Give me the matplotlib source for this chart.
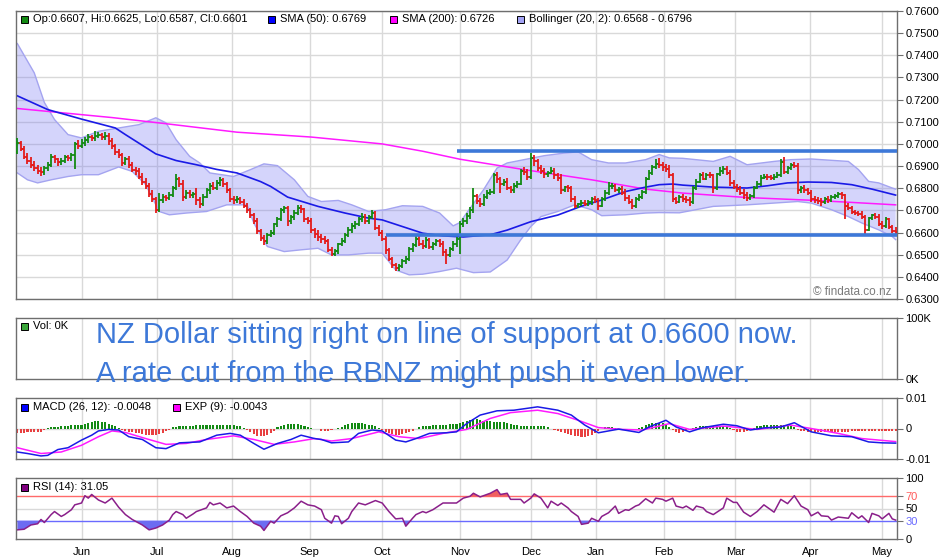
import numpy as np
import matplotlib
matplotlib.use("Agg")
import matplotlib.pyplot as plt
from matplotlib.patches import Rectangle

plt.rcParams["font.family"] = ["Liberation Sans", "DejaVu Sans"]

# ---- daily NZD/USD bars, prices in 1/10000 ----
opens = [
    6965, 7002, 6978, 6942, 6925, 6906, 6893, 6880, 6872, 6890,
    6905, 6942, 6930, 6918, 6925, 6940, 6935, 6948, 7000, 6992,
    7005, 7018, 7030, 7026, 7038, 7042, 7030, 7035, 7012, 6990,
    6962, 6948, 6912, 6930, 6905, 6884, 6878, 6852, 6830, 6812,
    6776, 6752, 6702, 6745, 6762, 6758, 6770, 6800, 6842, 6820,
    6762, 6778, 6770, 6772, 6748, 6730, 6762, 6790, 6812, 6800,
    6822, 6835, 6818, 6790, 6752, 6745, 6752, 6740, 6722, 6700,
    6680, 6652, 6605, 6575, 6562, 6590, 6600, 6638, 6660, 6702,
    6712, 6650, 6668, 6690, 6712, 6705, 6660, 6652, 6610, 6592,
    6580, 6570, 6560, 6522, 6505, 6515, 6548, 6562, 6590, 6612,
    6630, 6640, 6660, 6672, 6652, 6668, 6690, 6620, 6598, 6572,
    6520, 6480, 6452, 6440, 6450, 6472, 6480, 6525, 6545, 6572,
    6550, 6540, 6568, 6535, 6550, 6560, 6548, 6512, 6500, 6525,
    6550, 6572, 6640, 6650, 6675, 6700, 6765, 6742, 6730, 6760,
    6780, 6785, 6860, 6840, 6818, 6830, 6800, 6790, 6810, 6820,
    6880, 6872, 6850, 6938, 6925, 6890, 6878, 6862, 6870, 6880,
    6858, 6845, 6790, 6805, 6800, 6752, 6720, 6728, 6735, 6730,
    6738, 6750, 6745, 6722, 6750, 6778, 6808, 6812, 6790, 6795,
    6780, 6755, 6740, 6720, 6752, 6760, 6782, 6840, 6870, 6895,
    6910, 6905, 6895, 6888, 6860, 6752, 6740, 6762, 6750, 6748,
    6740, 6800, 6830, 6860, 6842, 6860, 6858, 6802, 6862, 6880,
    6888, 6870, 6822, 6805, 6798, 6780, 6770, 6758, 6765, 6802,
    6820, 6848, 6852, 6850, 6848, 6852, 6860, 6920, 6872, 6890,
    6905, 6900, 6790, 6800, 6790, 6780, 6752, 6748, 6742, 6738,
    6752, 6748, 6760, 6765, 6772, 6768, 6720, 6710, 6692, 6690,
    6685, 6672, 6612, 6665, 6678, 6670, 6640, 6630, 6660, 6625,
    6607,
]
highs = [
    7028, 7015, 6990, 6958, 6940, 6922, 6905, 6898, 6902, 6920,
    6955, 6950, 6938, 6935, 6952, 6950, 6960, 7010, 7018, 7020,
    7030, 7045, 7042, 7058, 7055, 7050, 7052, 7048, 7025, 7000,
    6975, 6960, 6942, 6945, 6918, 6898, 6890, 6868, 6845, 6825,
    6790, 6762, 6780, 6775, 6770, 6785, 6812, 6862, 6850, 6835,
    6790, 6792, 6785, 6800, 6760, 6775, 6800, 6825, 6830, 6835,
    6852, 6848, 6830, 6800, 6765, 6765, 6762, 6750, 6735, 6712,
    6690, 6665, 6618, 6590, 6600, 6612, 6645, 6672, 6712, 6722,
    6722, 6680, 6702, 6725, 6725, 6712, 6672, 6665, 6622, 6610,
    6595, 6585, 6570, 6535, 6525, 6555, 6575, 6600, 6625, 6642,
    6650, 6672, 6690, 6682, 6678, 6702, 6698, 6632, 6610, 6585,
    6530, 6490, 6462, 6458, 6480, 6492, 6535, 6552, 6595, 6590,
    6565, 6580, 6575, 6558, 6570, 6572, 6560, 6525, 6535, 6560,
    6582, 6650, 6665, 6690, 6715, 6800, 6775, 6755, 6772, 6790,
    6798, 6868, 6872, 6852, 6842, 6848, 6812, 6822, 6832, 6888,
    6895, 6885, 6960, 6948, 6932, 6905, 6890, 6878, 6895, 6892,
    6870, 6862, 6812, 6815, 6810, 6765, 6732, 6745, 6748, 6745,
    6762, 6765, 6755, 6760, 6790, 6830, 6825, 6820, 6805, 6808,
    6795, 6770, 6750, 6762, 6772, 6792, 6852, 6882, 6905, 6932,
    6935, 6918, 6910, 6905, 6868, 6762, 6770, 6775, 6765, 6760,
    6812, 6842, 6870, 6875, 6868, 6875, 6865, 6870, 6898, 6902,
    6900, 6882, 6835, 6818, 6812, 6795, 6782, 6772, 6812, 6832,
    6858, 6865, 6862, 6860, 6862, 6872, 6932, 6940, 6900, 6915,
    6918, 6915, 6812, 6815, 6802, 6792, 6765, 6760, 6755, 6762,
    6765, 6768, 6775, 6782, 6785, 6775, 6732, 6718, 6700, 6698,
    6695, 6680, 6670, 6685, 6690, 6682, 6650, 6672, 6665, 6635,
    6625,
]
lows = [
    6955, 6968, 6930, 6910, 6890, 6878, 6862, 6855, 6860, 6880,
    6895, 6915, 6900, 6905, 6915, 6922, 6925, 6885, 6975, 6980,
    6990, 7005, 7012, 7015, 7025, 7018, 7018, 6995, 6975, 6950,
    6935, 6900, 6905, 6890, 6872, 6860, 6840, 6815, 6795, 6760,
    6740, 6688, 6692, 6735, 6742, 6748, 6760, 6792, 6805, 6742,
    6750, 6755, 6755, 6725, 6712, 6718, 6755, 6775, 6790, 6790,
    6810, 6805, 6778, 6738, 6730, 6735, 6728, 6710, 6690, 6665,
    6640, 6595, 6560, 6545, 6550, 6580, 6590, 6625, 6650, 6690,
    6630, 6640, 6655, 6680, 6690, 6648, 6640, 6598, 6575, 6562,
    6555, 6548, 6510, 6492, 6495, 6505, 6540, 6552, 6580, 6600,
    6618, 6630, 6648, 6640, 6640, 6660, 6612, 6585, 6560, 6505,
    6470, 6438, 6425, 6428, 6438, 6460, 6470, 6512, 6535, 6540,
    6525, 6532, 6525, 6522, 6540, 6535, 6495, 6460, 6490, 6515,
    6535, 6502, 6625, 6640, 6660, 6690, 6730, 6715, 6720, 6752,
    6768, 6775, 6825, 6778, 6810, 6790, 6778, 6780, 6800, 6815,
    6858, 6838, 6842, 6900, 6880, 6862, 6848, 6850, 6862, 6842,
    6832, 6775, 6782, 6785, 6740, 6712, 6710, 6720, 6718, 6722,
    6725, 6735, 6702, 6715, 6742, 6770, 6795, 6782, 6778, 6770,
    6742, 6730, 6705, 6712, 6742, 6752, 6775, 6835, 6860, 6885,
    6892, 6880, 6872, 6845, 6740, 6728, 6732, 6738, 6732, 6722,
    6730, 6790, 6822, 6835, 6835, 6848, 6780, 6790, 6855, 6865,
    6860, 6810, 6795, 6782, 6768, 6752, 6742, 6748, 6755, 6795,
    6812, 6840, 6838, 6838, 6835, 6845, 6852, 6862, 6865, 6882,
    6890, 6772, 6778, 6780, 6770, 6740, 6735, 6730, 6722, 6730,
    6735, 6740, 6752, 6755, 6752, 6660, 6700, 6682, 6680, 6675,
    6662, 6585, 6605, 6655, 6662, 6628, 6615, 6622, 6615, 6598,
    6587,
]
closes = [
    7002, 6978, 6942, 6925, 6906, 6893, 6880, 6872, 6890, 6905,
    6942, 6930, 6918, 6925, 6940, 6935, 6948, 7000, 6992, 7005,
    7018, 7030, 7026, 7038, 7042, 7030, 7035, 7012, 6990, 6962,
    6948, 6912, 6930, 6905, 6884, 6878, 6852, 6830, 6812, 6776,
    6752, 6702, 6745, 6762, 6758, 6770, 6800, 6842, 6820, 6762,
    6778, 6770, 6772, 6748, 6730, 6762, 6790, 6812, 6800, 6822,
    6835, 6818, 6790, 6752, 6745, 6752, 6740, 6722, 6700, 6680,
    6652, 6605, 6575, 6562, 6590, 6600, 6638, 6660, 6702, 6712,
    6650, 6668, 6690, 6712, 6705, 6660, 6652, 6610, 6592, 6580,
    6570, 6560, 6522, 6505, 6515, 6548, 6562, 6590, 6612, 6630,
    6640, 6660, 6672, 6652, 6668, 6690, 6620, 6598, 6572, 6520,
    6480, 6452, 6440, 6450, 6472, 6480, 6525, 6545, 6572, 6550,
    6540, 6568, 6535, 6550, 6560, 6548, 6512, 6500, 6525, 6550,
    6572, 6640, 6650, 6675, 6700, 6765, 6742, 6730, 6760, 6780,
    6785, 6860, 6840, 6818, 6830, 6800, 6790, 6810, 6820, 6880,
    6872, 6850, 6938, 6925, 6890, 6878, 6862, 6870, 6880, 6858,
    6845, 6790, 6805, 6800, 6752, 6720, 6728, 6735, 6730, 6738,
    6750, 6745, 6722, 6750, 6778, 6808, 6812, 6790, 6795, 6780,
    6755, 6740, 6720, 6752, 6760, 6782, 6840, 6870, 6895, 6910,
    6905, 6895, 6888, 6860, 6752, 6740, 6762, 6750, 6748, 6740,
    6800, 6830, 6860, 6842, 6860, 6858, 6802, 6862, 6880, 6888,
    6870, 6822, 6805, 6798, 6780, 6770, 6758, 6765, 6802, 6820,
    6848, 6852, 6850, 6848, 6852, 6860, 6920, 6872, 6890, 6905,
    6900, 6790, 6800, 6790, 6780, 6752, 6748, 6742, 6738, 6752,
    6748, 6760, 6765, 6772, 6768, 6720, 6710, 6692, 6690, 6685,
    6672, 6612, 6665, 6678, 6670, 6640, 6630, 6660, 6625, 6607,
    6601,
]

# ---- overlays (bar index, value in 1/10000) ----
sma50_idx = [0, 9, 19, 29, 32, 41, 47, 53, 59, 65, 72, 75, 80, 89, 97, 104, 108, 114, 120, 126,
             132, 140, 145, 152, 160, 167, 173, 180, 186, 190, 194, 197, 206, 216, 222, 228, 234, 241,
             247, 253, 260]
sma50_val = [7217, 7155, 7112, 7072, 7042, 6955, 6925, 6906, 6885, 6869, 6830, 6808, 6760, 6718, 6688,
             6665, 6657, 6627, 6597, 6585, 6580, 6590, 6611, 6649, 6679, 6719, 6747, 6785, 6805, 6816,
             6819, 6814, 6805, 6801, 6811, 6824, 6828, 6826, 6816, 6796, 6769]
sma200_idx = [0, 28, 43, 65, 87, 108, 120, 131, 150, 170, 186, 197, 216, 236, 247, 260]
sma200_val = [7160, 7119, 7093, 7053, 7031, 7000, 6967, 6931, 6884, 6838, 6796, 6778, 6758, 6745, 6736, 6725]

bb_up_idx = [0, 5, 8, 11, 15, 19, 24, 30, 36, 41, 44, 47, 51, 54, 57, 64, 69, 73, 77, 82,
             86, 90, 95, 99, 104, 109, 114, 120, 125, 129, 131, 133, 138, 142, 145, 150, 156, 162,
             166, 170, 175, 180, 186, 190, 193, 197, 206, 211, 216, 224, 229, 235, 246, 249, 252,
             255, 259, 260]
bb_up_val = [7453, 7321, 7187, 7110, 7042, 7027, 7057, 7072, 7087, 7118, 7095, 7019, 6944, 6914, 6869,
             6853, 6884, 6910, 6902, 6838, 6763, 6740, 6745, 6725, 6695, 6703, 6721, 6718, 6688, 6630,
             6645, 6688, 6793, 6891, 6914, 6929, 6947, 6959, 6964, 6929, 6914, 6914, 6929, 6952, 6937,
             6935, 6921, 6944, 6906, 6921, 6929, 6932, 6921, 6884, 6831, 6824, 6801, 6796]
bb_lo_idx = [0, 3, 6, 10, 15, 19, 24, 30, 34, 38, 42, 45, 50, 56, 62, 68, 70, 74, 79, 84,
             89, 93, 98, 104, 108, 112, 116, 120, 125, 130, 135, 140, 145, 149, 152, 155, 160, 165,
             170, 173, 180, 186, 190, 196, 206, 216, 231, 235, 241, 246, 250, 255, 259, 260]
bb_lo_val = [6869, 6838, 6824, 6838, 6853, 6861, 6861, 6896, 6876, 6816, 6695, 6680, 6688, 6695, 6725,
             6725, 6643, 6537, 6514, 6522, 6529, 6499, 6499, 6507, 6507, 6431, 6409, 6412, 6424, 6439,
             6419, 6422, 6476, 6567, 6627, 6672, 6695, 6725, 6703, 6676, 6680, 6688, 6690, 6689, 6718,
             6725, 6740, 6733, 6703, 6672, 6643, 6612, 6582, 6568]

# support / resistance drawn by hand on the chart
resist_level, resist_start = 6970, 130
support_level, support_start = 6590, 109

# ---- MACD panel (1/10000) ----
macd_idx = [0, 3, 7, 9, 12, 15, 19, 22, 24, 27, 30, 33, 37, 41, 44, 48, 54, 59, 63, 66,
            70, 73, 77, 81, 84, 88, 90, 93, 98, 101, 105, 108, 112, 115, 118, 122, 127, 130, 133, 137,
            142, 147, 154, 160, 164, 168, 172, 178, 184, 187, 192, 195, 199, 203, 209, 213, 217, 221,
            226, 230, 235, 241, 247, 252, 256, 260]
macd_val = [-77, -82, -90, -88, -69, -63, -38, -22, -8, -3, -5, -27, -36, -63, -66, -47, -44, -22, -16, -22,
            -49, -68, -49, -36, -22, -33, -36, -47, -44, -16, -5, -8, -38, -44, -33, -16, -14, -11, 16, 44,
            58, 60, 71, 60, 44, 11, -14, -2, -13, 5, 27, 5, -11, 3, 14, 9, -5, 2, 5, 19,
            -11, -24, -27, -44, -47, -48]
signal_idx = [0, 7, 13, 19, 24, 28, 32, 38, 44, 50, 56, 64, 70, 76, 82, 88, 93, 99, 107, 113,
              119, 126, 133, 140, 146, 154, 160, 166, 172, 179, 185, 193, 199, 209, 219, 229, 235, 243,
              250, 260]
signal_val = [-63, -82, -77, -55, -27, -8, -13, -33, -52, -49, -36, -24, -36, -52, -44, -33, -41, -33, -11, -27,
              -33, -16, -3, 33, 52, 60, 49, 27, 3, -3, -5, 16, -3, 8, -3, 11, 0, -16, -33, -43]
macd_hist = [
    -15, -14, -14, -13, -13, -12, -12, -11, -4, 2,
    4, 5, 6, 7, 8, 9, 10, 11, 12, 13,
    15, 17, 20, 23, 24, 22, 20, 16, 12, 8,
    3, -4, -7, -10, -12, -14, -16, -18, -20, -21,
    -22, -22, -18, -14, -9, -5, 4, 6, 7, 8,
    8, 9, 9, 10, 10, 11, 11, 12, 12, 13,
    13, 13, 12, 11, 10, 9, 8, 2, -6, -12,
    -18, -23, -25, -24, -20, -15, -8, 4, 8, 11,
    14, 16, 16, 15, 12, 8, 5, 3, 0, -3,
    -7, -8, -8, -6, -3, 2, 6, 10, 14, 17,
    19, 19, 18, 16, 13, 10, 7, 3, -4, -10,
    -15, -18, -20, -20, -18, -15, -11, -7, -3, 4,
    7, 8, 9, 10, 10, 11, 12, 13, 14, 15,
    16, 18, 20, 24, 28, 30, 30, 28, 26, 24,
    23, 22, 22, 21, 20, 18, 15, 12, 10, 9,
    8, 8, 8, 8, 8, 8, 7, 6, -3, -6,
    -9, -12, -15, -18, -21, -24, -26, -27, -27, -25,
    -20, -14, -8, -3, 4, 5, 4, 3, -3, -5,
    -6, -5, -4, -3, 2, 6, 10, 14, 17, 19,
    19, 18, 14, 6, -6, -12, -14, -13, -9, -4,
    3, 6, 8, 8, 8, 8, 8, 7, 7, 7,
    6, 2, -6, -10, -11, -10, -7, -2, 3, 7,
    9, 10, 10, 11, 11, 11, 12, 12, 11, 8,
    4, -6, -8, -9, -10, -11, -11, -12, -12, -13,
    -13, -12, -12, -11, -11, -10, -10, -9, -9, -9,
    -9, -8, -8, -8, -8, -8, -8, -8, -8, -8,
    -8,
]

# ---- RSI (14) ----
rsi_idx = [0, 2, 4, 6, 7, 8, 10, 11, 13, 14, 16, 17, 19, 20, 21, 22, 24, 26, 28, 30,
           32, 34, 35, 37, 39, 41, 43, 45, 46, 47, 49, 50, 52, 53, 56, 57, 58, 60, 62, 64,
           66, 68, 70, 72, 73, 75, 76, 78, 80, 82, 84, 86, 88, 90, 91, 93, 94, 95, 96, 98,
           99, 101, 103, 106, 108, 110, 112, 114, 115, 117, 118, 120, 121, 123, 126, 130, 132, 134, 135, 137,
           138, 140, 142, 143, 145, 146, 149, 150, 152, 153, 155, 157, 158, 160, 161, 163, 164, 166, 167, 169,
           170, 172, 173, 175, 177, 178, 180, 181, 183, 184, 186, 188, 189, 191, 192, 194, 195, 197, 198, 200,
           201, 203, 204, 206, 209, 210, 212, 213, 215, 217, 219, 221, 223, 224, 226, 228, 230, 232, 234, 235,
           237, 238, 240, 241, 243, 246, 247, 249, 250, 252, 253, 255, 256, 258, 259, 260]
rsi_val = [15, 16, 23, 25, 32, 27, 40, 45, 37, 40, 48, 56, 59, 71, 67, 73, 64, 59, 67, 52,
           40, 32, 29, 23, 15, 18, 23, 31, 40, 45, 40, 34, 41, 45, 51, 60, 56, 59, 51, 54,
           45, 37, 26, 21, 14, 29, 26, 38, 43, 51, 62, 56, 54, 48, 34, 26, 38, 37, 25, 34,
           45, 59, 56, 63, 59, 45, 33, 34, 21, 34, 40, 45, 43, 48, 59, 59, 67, 70, 75, 69,
           71, 75, 81, 73, 75, 65, 65, 59, 67, 74, 67, 51, 62, 55, 59, 51, 45, 37, 24, 26,
           34, 29, 37, 43, 54, 42, 48, 47, 54, 56, 66, 59, 67, 65, 62, 67, 54, 51, 54, 47,
           54, 51, 45, 40, 51, 67, 60, 60, 44, 37, 45, 56, 48, 44, 65, 58, 71, 54, 48, 38,
           44, 38, 37, 31, 36, 34, 43, 34, 38, 27, 42, 38, 33, 42, 33, 31]

month_labels = ["Jun", "Jul", "Aug", "Sep", "Oct", "Nov", "Dec", "Jan", "Feb", "Mar", "Apr", "May"]
month_pos = [19.2, 41.4, 63.6, 86.6, 108.0, 131.0, 152.1, 171.3, 191.4, 212.5, 234.7, 255.9]

GREEN = "#138a13"
RED = "#e41b1b"
GRID = "#d9d9d9"
EDGE = "#6e6e6e"
NOTE_BLUE = "#3d78d8"

W, H = 940, 560
fig = plt.figure(figsize=(W / 100, H / 100), dpi=100)


def panel(top_px, bottom_px):
    return fig.add_axes([16 / W, 1 - bottom_px / H, (897 - 16) / W, (bottom_px - top_px) / H])


def style(ax, ylim, ticks, labels):
    ax.set_xlim(-0.4, 260.4)
    ax.set_ylim(*ylim)
    ax.set_xticks(month_pos)
    ax.set_xticklabels([])
    ax.tick_params(axis="x", length=0)
    ax.grid(axis="x", color=GRID, lw=1)
    ax.yaxis.tick_right()
    ax.set_yticks(ticks)
    ax.set_yticklabels(labels)
    ax.tick_params(axis="y", length=4, width=0.8, color=EDGE, labelsize=8, pad=2)
    for s in ax.spines.values():
        s.set_color(EDGE)
        s.set_linewidth(1.0)
    ax.set_axisbelow(True)


def legend_item(x, y, color, label):
    fig.patches.append(Rectangle((x / W, 1 - (y + 4) / H), 7 / W, 7 / H, transform=fig.transFigure,
                                 facecolor=color, edgecolor="black", lw=0.7, zorder=10))
    fig.text((x + 12) / W, 1 - y / H, label, fontsize=8, va="center", zorder=10)


# ---- price panel ----
o = np.array(opens) / 1e4
h = np.array(highs) / 1e4
l = np.array(lows) / 1e4
c = np.array(closes) / 1e4
x = np.arange(len(c))

ax = panel(11, 299)
ticks = np.arange(63, 77) / 100
style(ax, (0.63, 0.76), ticks, [f"{t:.4f}" for t in ticks])
ax.grid(axis="y", color=GRID, lw=1)

bb_x = np.concatenate([bb_up_idx, bb_lo_idx[::-1]])
bb_y = np.concatenate([bb_up_val, bb_lo_val[::-1]]) / 1e4
ax.fill(bb_x, bb_y, color=(0.45, 0.45, 0.95), alpha=0.3, lw=0, zorder=1)
ax.plot(bb_up_idx, np.array(bb_up_val) / 1e4, color="#a4a4f0", lw=1.0, zorder=1.5)
ax.plot(bb_lo_idx, np.array(bb_lo_val) / 1e4, color="#a4a4f0", lw=1.0, zorder=1.5)
ax.plot(sma200_idx, np.array(sma200_val) / 1e4, color="#ff1aff", lw=1.1, zorder=2)
ax.plot(sma50_idx, np.array(sma50_val) / 1e4, color="#1a1ae6", lw=1.2, zorder=2)

cols = np.where(c >= o, GREEN, RED)
ax.vlines(x, l, h, colors=cols, lw=1.3, zorder=3)
ax.hlines(o, x - 0.55, x, colors=cols, lw=1.3, zorder=3)
ax.hlines(c, x, x + 0.55, colors=cols, lw=1.3, zorder=3)

ax.plot([resist_start, 260.4], [resist_level / 1e4] * 2, color=NOTE_BLUE, lw=2.6, zorder=4,
        solid_capstyle="butt")
ax.plot([support_start, 260.4], [support_level / 1e4] * 2, color=NOTE_BLUE, lw=2.6, zorder=4,
        solid_capstyle="butt")

legend_item(21, 19, GREEN, "Op:0.6607, Hi:0.6625, Lo:0.6587, Cl:0.6601")
legend_item(268, 19, "#0000ff", "SMA (50): 0.6769")
legend_item(390, 19, "#ff00ff", "SMA (200): 0.6726")
legend_item(517, 19, "#a3a3f5", "Bollinger (20, 2): 0.6568 - 0.6796")
fig.text(813 / W, 1 - 292 / H, "\u00a9 findata.co.nz", fontsize=8.5, color="#7a7a7a", va="center", zorder=10)

# ---- volume panel ----
axv = panel(318, 379)
style(axv, (0, 100), [0, 100], ["0K", "100K"])
legend_item(21, 326, "#3aa63a", "Vol: 0K")

# ---- MACD panel ----
axm = panel(398, 459)
style(axm, (-0.01, 0.01), [-0.01, 0, 0.01], ["-0.01", "0", "0.01"])
axm.axhline(0, color=GRID, lw=1, zorder=0.5)
hist = np.array(macd_hist) / 1e4
axm.bar(x, hist, width=0.62, color=np.where(hist >= 0, GREEN, "#e84040"), zorder=2)
axm.plot(signal_idx, np.array(signal_val) / 1e4, color="#ff1aff", lw=1.1, zorder=3)
axm.plot(macd_idx, np.array(macd_val) / 1e4, color="#1a1ae6", lw=1.1, zorder=3)
legend_item(21, 407, "#0000ff", "MACD (26, 12): -0.0048")
legend_item(173, 407, "#ff00ff", "EXP (9): -0.0043")

# ---- RSI panel ----
axr = panel(478, 539)
style(axr, (0, 100), [0, 30, 50, 70, 100], ["0", "30", "50", "70", "100"])
axr.get_yticklabels()[1].set_color("#6a6aff")
axr.get_yticklabels()[3].set_color("#ff5a5a")
axr.axhline(50, color=GRID, lw=1, zorder=0.5)
axr.axhline(70, color="#ff6a6a", lw=1, zorder=1)
axr.axhline(30, color="#6a6aff", lw=1, zorder=1)
rx = np.array(rsi_idx, dtype=float)
ry = np.array(rsi_val, dtype=float)
axr.fill_between(rx, ry, 30, where=ry < 30, interpolate=True, color="#6c6cf2", lw=0, zorder=1.5)
axr.fill_between(rx, ry, 70, where=ry > 70, interpolate=True, color="#f06060", lw=0, zorder=1.5)
axr.plot(rx, ry, color="#8a1f8a", lw=1.1, zorder=2)
axr.set_xticklabels(month_labels, fontsize=8)
axr.tick_params(axis="x", pad=6)
legend_item(21, 487, "#800080", "RSI (14): 31.05")

# ---- annotation ----
fig.text(96 / W, 1 - 343 / H, "NZ Dollar sitting right on line of support at 0.6600 now.",
         fontsize=21, color=NOTE_BLUE, va="baseline", zorder=12)
fig.text(96 / W, 1 - 382 / H, "A rate cut from the RBNZ might push it even lower.",
         fontsize=21, color=NOTE_BLUE, va="baseline", zorder=12)

fig.savefig("out.png", dpi=100)
